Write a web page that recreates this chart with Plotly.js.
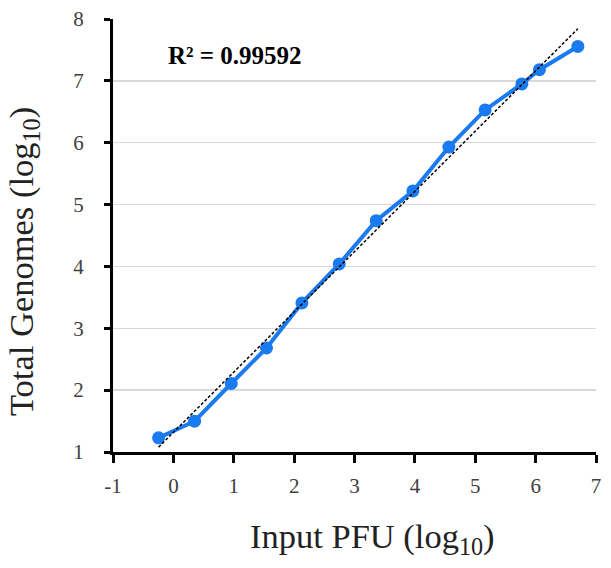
<!DOCTYPE html>
<html>
<head>
<meta charset="utf-8">
<script src="https://cdn.plot.ly/plotly-3.0.1.min.js"></script>
<style>html,body{margin:0;padding:0;background:#fff;}#chart{width:611px;height:568px;}</style>
</head>
<body>
<div id="chart"></div>
<script>
const inputPFU = [-0.245, 0.351, 0.959, 1.543, 2.129, 2.747, 3.359, 3.967, 4.563, 5.164, 5.772, 6.063, 6.699];
const totalGenomes = [1.229, 1.498, 2.107, 2.683, 3.41, 4.04, 4.74, 5.22, 5.93, 6.53, 6.95, 7.18, 7.556];
const xTicks = [-1, 0, 1, 2, 3, 4, 5, 6, 7];
const xTickText = ['-1', '0', '1', '2', '3', '4', '5', '6', '7'];
const yTicks = [1, 2, 3, 4, 5, 6, 7, 8];
const r2Label = 'R² = 0.99592';
const xTitle = 'Input PFU (log<sub>10</sub>)';
const yTitle = 'Total Genomes (log<sub>10</sub>)';

// linear least-squares trendline from the data
const n = inputPFU.length;
const mx = inputPFU.reduce((a, b) => a + b, 0) / n;
const my = totalGenomes.reduce((a, b) => a + b, 0) / n;
let sxy = 0, sxx = 0;
for (let i = 0; i < n; i++) { sxy += (inputPFU[i] - mx) * (totalGenomes[i] - my); sxx += (inputPFU[i] - mx) ** 2; }
const slope = sxy / sxx, intercept = my - slope * mx;
const trendX = [inputPFU[0], inputPFU[n - 1]];
const trendY = trendX.map(x => intercept + slope * x);

const serif = 'Liberation Serif, Times New Roman, serif';
const data = [
  {x: inputPFU, y: totalGenomes, type: 'scatter', mode: 'lines+markers',
   line: {color: '#1a7af0', width: 4}, marker: {color: '#1a7af0', size: 13}, showlegend: false},
  {x: trendX, y: trendY, type: 'scatter', mode: 'lines',
   line: {color: '#000', width: 1.5, dash: '3px,2px'}, showlegend: false}
];
const layout = {
  width: 611, height: 568,
  margin: {l: 113, r: 15, t: 19, b: 116},
  paper_bgcolor: '#fff', plot_bgcolor: '#fff',
  font: {family: serif, color: '#404040', size: 21},
  xaxis: {range: [-1, 7], tickvals: xTicks, ticktext: xTickText, showgrid: false, zeroline: false,
    showline: true, linecolor: '#000', linewidth: 3, ticks: 'outside', ticklen: 8, tickwidth: 3, tickcolor: '#000',
    ticklabelstandoff: 5, tickfont: {family: serif, size: 21, color: '#404040'}},
  yaxis: {range: [1, 8], tickvals: yTicks, showgrid: true, gridcolor: '#d9d9d9', gridwidth: 1.5, zeroline: false,
    showline: true, linecolor: '#000', linewidth: 3, ticks: 'outside', ticklen: 6, tickwidth: 3, tickcolor: '#000',
    ticklabelstandoff: 16, tickfont: {family: serif, size: 21, color: '#404040'}},
  annotations: [
    {text: '<b>' + r2Label + '</b>', xref: 'paper', yref: 'paper', x: 0.11, y: 0.915,
     xanchor: 'left', yanchor: 'middle', showarrow: false, font: {family: serif, size: 25, color: '#000'}},
    {text: xTitle, xref: 'paper', yref: 'paper', x: 0.538, y: -0.199, xanchor: 'center', yanchor: 'middle',
     showarrow: false, font: {family: serif, size: 34.5, color: '#222'}},
    {text: yTitle, xref: 'paper', yref: 'paper', x: -0.184, y: 0.439, xanchor: 'center', yanchor: 'middle',
     textangle: -90, showarrow: false, font: {family: serif, size: 34.5, color: '#222'}}
  ]
};
Plotly.newPlot('chart', data, layout, {staticPlot: true, displayModeBar: false});
</script>
</body>
</html>
